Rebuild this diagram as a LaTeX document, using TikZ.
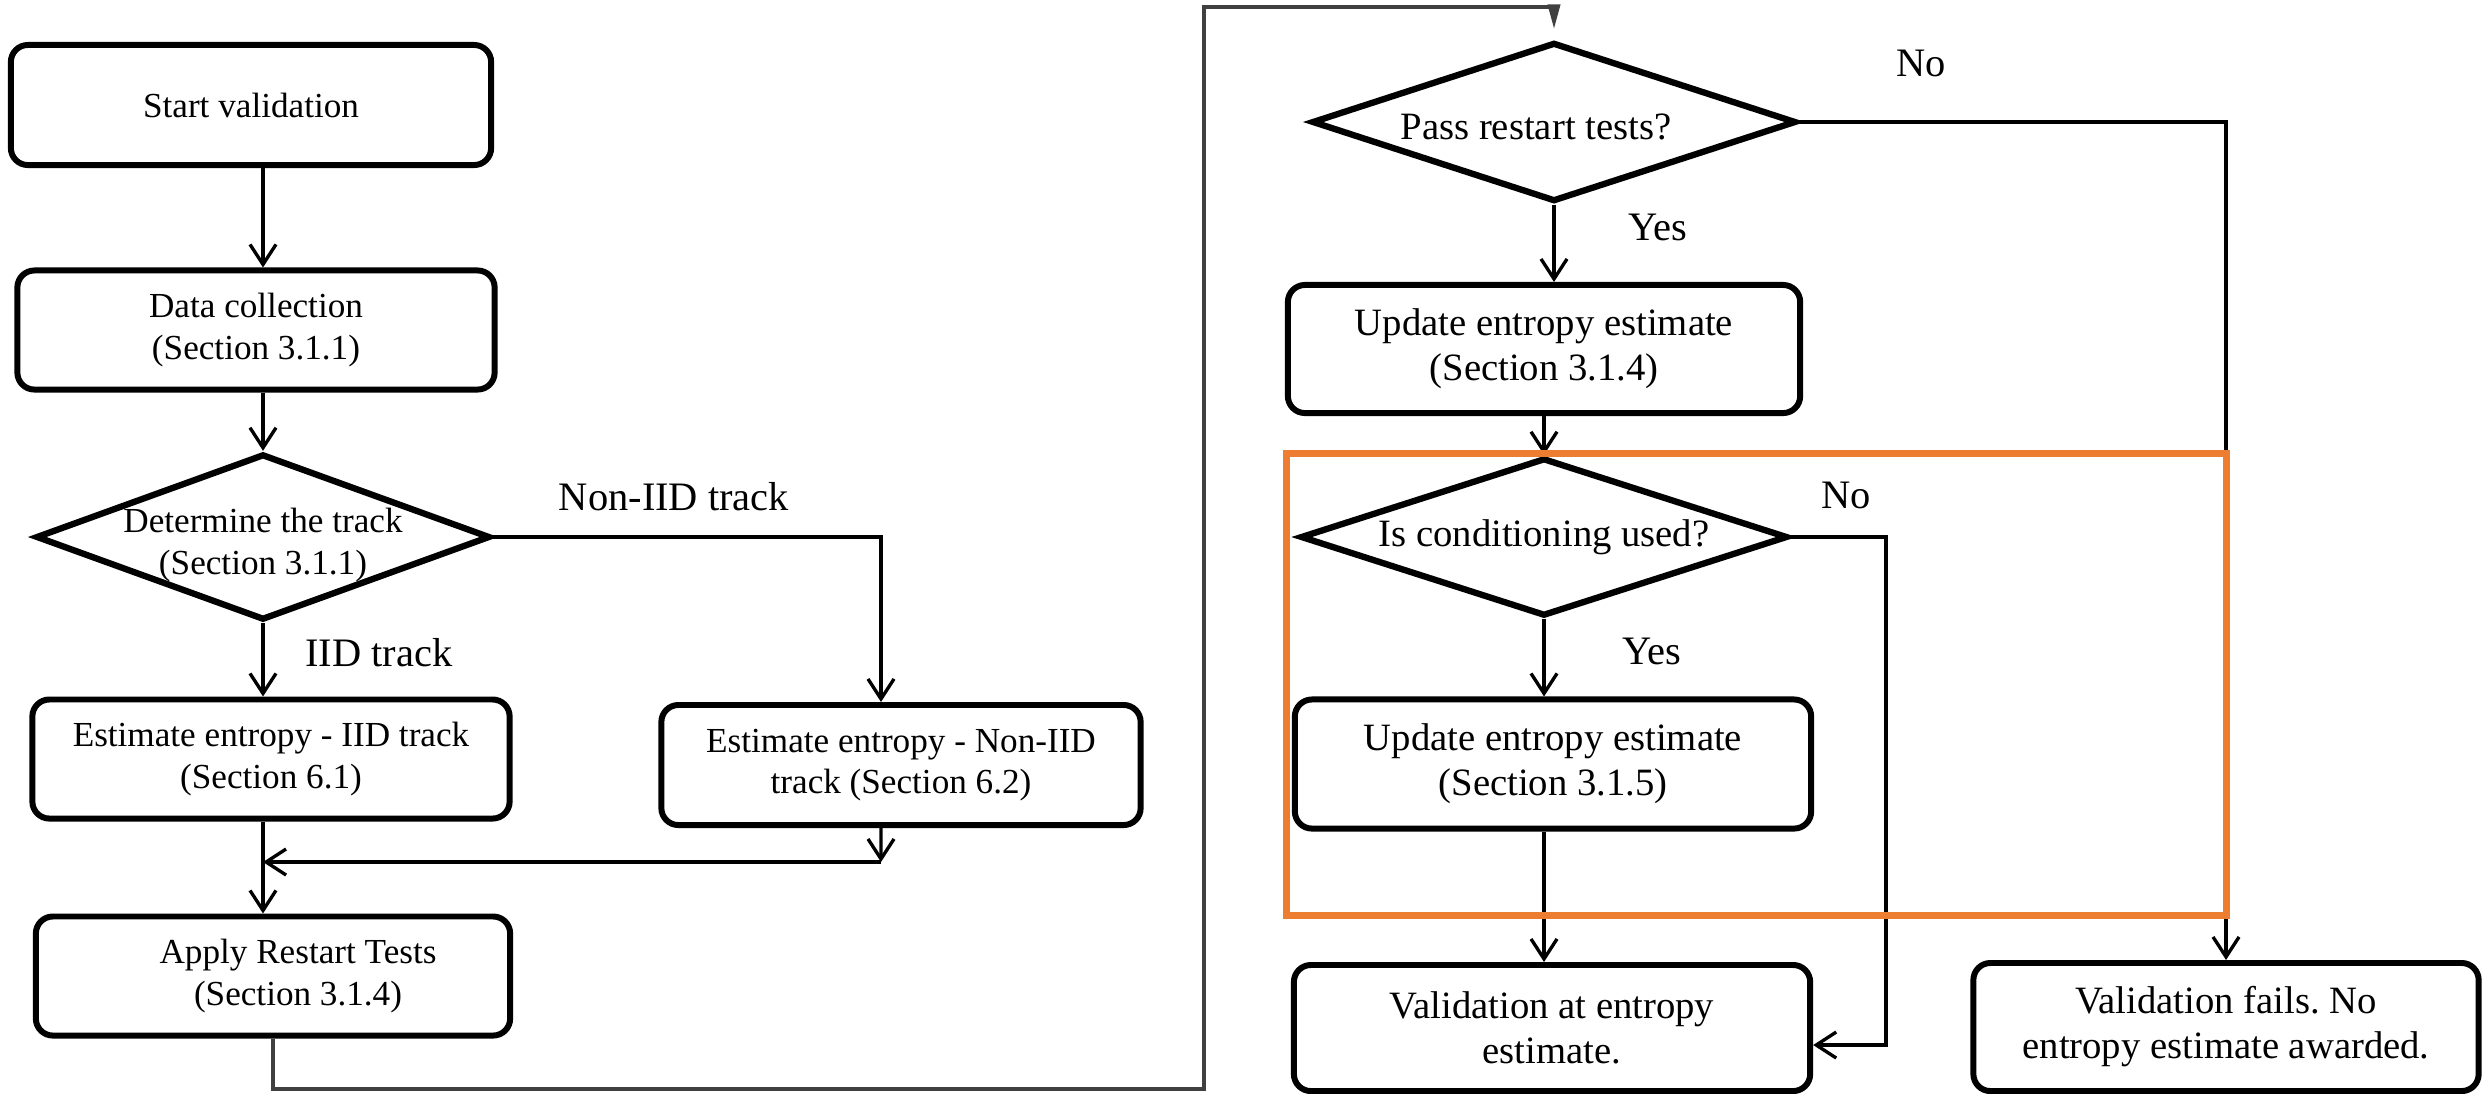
\documentclass[tikz,border=0pt]{standalone}
\usepackage{fontspec}
\setmainfont{Liberation Serif}
\usepackage{tikz}
\usetikzlibrary{arrows.meta}
\usetikzlibrary{shapes.geometric}
\definecolor{hiorange}{RGB}{237,125,49}
\definecolor{loopgray}{RGB}{64,64,64}
\newcommand{\lfont}{\fontsize{10}{11.8}\selectfont}
\newcommand{\rfont}{\fontsize{11}{12.8}\selectfont}
\frenchspacing
\tikzset{procbox/.style={draw, line width=1.7pt, rounded corners=0.17cm, align=center, inner sep=0pt},
  decide/.style={draw, diamond, line width=1.8pt, inner sep=0pt},
  arr/.style={line width=0.95pt, -{Straight Barb[length=0.2cm,width=0.26cm]}},
  lbl/.style={inner sep=0pt, font=\fontsize{11.5}{13}\selectfont},
  loopline/.style={draw=loopgray, line width=1.1pt, -{Triangle[length=0.25cm,width=0.12cm]}, shorten >=0.1cm}}

\begin{document}
\begin{tikzpicture}[x=0.01cm, y=-0.01cm]
\useasboundingbox (0,0) rectangle (2483,1093);
% left column
\node[procbox, font=\lfont, minimum width=4.80cm, minimum height=1.20cm] (start) at (251,105) {Start validation};
\node[procbox, font=\lfont, minimum width=4.77cm, minimum height=1.19cm] (data) at (256,330) {Data collection\\(Section 3.1.1)};
\node[decide, minimum width=4.54cm, minimum height=1.66cm,
  label={[align=center, font=\lfont, yshift=-0.08cm]center:{Determine the track\\(Section 3.1.1)}}] (track) at (263,537) {};
\node[procbox, font=\lfont, minimum width=4.77cm, minimum height=1.19cm] (iid) at (271,759) {Estimate entropy - IID track\\(Section 6.1)};
\node[procbox, font=\lfont, minimum width=4.79cm, minimum height=1.20cm] (noniid) at (901,765) {Estimate entropy - Non-IID\\track (Section 6.2)};
\node[procbox, font=\lfont, minimum width=4.74cm, minimum height=1.19cm] (apply) at (273,976) {\hspace*{0.5cm}Apply Restart Tests\\\hspace*{0.5cm}(Section 3.1.4)};
% right column
\node[decide, minimum width=4.84cm, minimum height=1.59cm,
  label={[font=\rfont, yshift=-0.05cm, xshift=-0.18cm]center:Pass restart tests?}] (pass) at (1554,122) {};
\node[procbox, font=\rfont, minimum width=5.12cm, minimum height=1.28cm] (upd1) at (1544,349) {Update entropy estimate\\(Section 3.1.4)};
\node[decide, minimum width=4.87cm, minimum height=1.58cm,
  label={[font=\rfont]center:Is conditioning used?}] (cond) at (1544,537) {};
\node[procbox, font=\rfont, minimum width=5.16cm, minimum height=1.29cm] (upd2) at (1553,764) {Update entropy estimate\\(Section 3.1.5)};
\node[procbox, font=\rfont, minimum width=5.16cm, minimum height=1.26cm] (valid) at (1552,1028) {Validation at entropy\\estimate.};
\node[procbox, font=\rfont, minimum width=5.05cm, minimum height=1.28cm] (fails) at (2226,1027) {Validation fails. No\\entropy estimate awarded.};
% branch labels
\node[lbl] (lnoniid) at (674,497) {Non-IID track};
\node[lbl] (liid) at (379,653) {IID track};
\node[lbl] (lno1) at (1921,63) {No};
\node[lbl] (lyes1) at (1658,227) {Yes};
\node[lbl] (lno2) at (1846,495) {No};
\node[lbl] (lyes2) at (1652,651) {Yes};
\coordinate (merge) at (881,862);
\coordinate (loopbot) at (1204,1089);
\coordinate (looptop) at (1554,7);
\coordinate (condturn) at (1886,537);
% connectors
\draw[arr] (start.south -| track.north) -- (data.north -| track.north);
\draw[arr] (data.south -| track.north) -- (track.north);
\draw[arr] (track.south) -- (iid.north -| track.south);
\draw[arr] (track.east) -| ([xshift=-0.2cm]noniid.north);
\draw[arr] ([xshift=-0.2cm]noniid.south) -- (merge);
\draw[arr] (merge) -- (merge -| track.south);
\draw[arr] (iid.south -| track.south) -- (apply.north -| track.south);
\draw[loopline] (apply.south) |- (loopbot) |- (looptop) -- (pass.north);
\draw[arr] (pass.south) -- (upd1.north -| pass.south);
\draw[arr] (upd1.south) -- (cond.north);
\draw[arr] (cond.south) -- (upd2.north -| cond.south);
\draw[arr] (upd2.south -| cond.south) -- (valid.north -| cond.south);
\draw[arr] (pass.east) -| (fails.north);
\draw[arr] (cond.east) -- (condturn) |- ([yshift=-0.17cm]valid.east);
% highlighted part
\draw[hiorange, line width=2pt] (1286,453) rectangle (fails.north |- 0,915);
\end{tikzpicture}
\end{document}
